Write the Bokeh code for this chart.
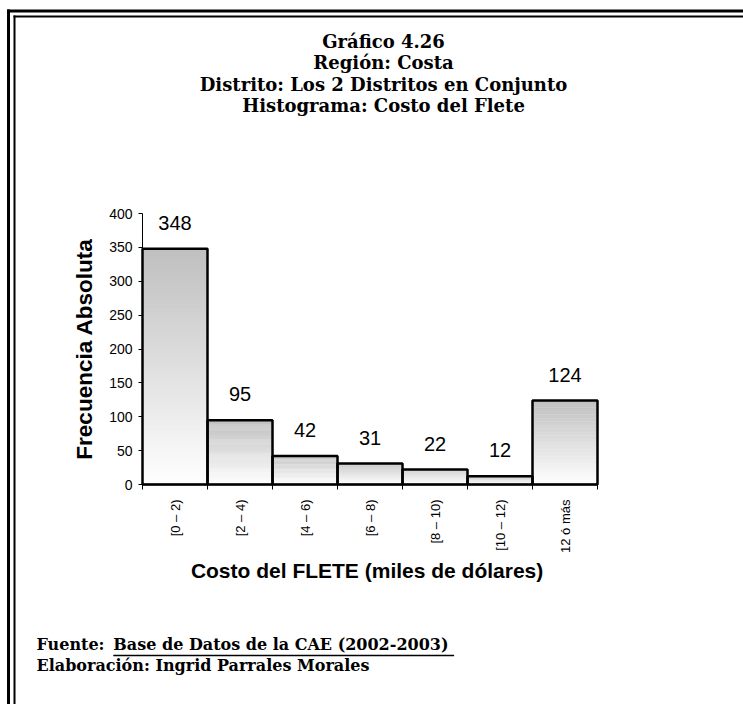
import math
from bokeh.plotting import figure
from bokeh.models import Range1d, FixedTicker, Label
from bokeh.core.properties import value
from bokeh.embed import file_html
from bokeh.resources import INLINE

# ---------------- data ----------------
categories = ["[0 \u2013 2)", "[2 \u2013 4)", "[4 \u2013 6)", "[6 \u2013 8)",
              "[8 \u2013 10)", "[10 \u2013 12)", "12 \u00f3 m\u00e1s"]
frequencies = [348, 95, 42, 31, 22, 12, 124]
y_ticks = [0, 50, 100, 150, 200, 250, 300, 350, 400]

title_lines = ["Gr\u00e1fico 4.26", "Regi\u00f3n: Costa",
               "Distrito: Los 2 Distritos en Conjunto",
               "Histograma: Costo del Flete"]
x_title = "Costo  del FLETE (miles de d\u00f3lares)"
y_title = "Frecuencia Absoluta"
source_label = "Fuente: "
source_text = "Base de Datos de la CAE (2002-2003)"
author_text = "Elaboraci\u00f3n: Ingrid Parrales Morales"

# ---------------- layout (canvas px) ----------------
W, H = 743, 704
CL, CR, CT, CB = 142, 597, 213, 484      # chart area edges on the canvas
n = len(categories)
XSPAN = 2 * n
YMAX = y_ticks[-1]
KX = (CR - CL) / XSPAN                   # px per x unit
KY = (CB - CT) / YMAX                    # px per y unit
BASE_FIX = 0.47                          # baseline correction (fraction of font size)
SERIF = "DejaVu Serif"

def xd(c):      # canvas x -> data x
    return (c - CL) / KX

def yd(c):      # canvas y -> data y
    return (CB - c) / KY

centers = [2 * i + 1 for i in range(n)]
lefts = [c - 1 for c in centers]
rights = [c + 1 for c in centers]

p = figure(width=W, height=H, output_backend="svg", toolbar_location=None,
           title=None, min_border=0,
           x_range=Range1d(xd(0), xd(W)), y_range=Range1d(yd(H), yd(0)))
p.outline_line_color = None
p.grid.visible = False
p.background_fill_color = "white"
p.border_fill_color = "white"

# gradient bars (thin slices per bar, grey on top, white at bottom)
N = 60
sl, sr, sb, st, sc = [], [], [], [], []
top_rgb, bot_rgb = (191, 191, 191), (255, 255, 255)
for l, r, v in zip(lefts, rights, frequencies):
    for k in range(N):
        f0, f1 = k / N, (k + 1) / N
        t = (f0 + f1) / 2
        col = tuple(int(round(bot_rgb[j] + (top_rgb[j] - bot_rgb[j]) * t)) for j in range(3))
        sl.append(l); sr.append(r)
        sb.append(v * f0); st.append(min(v, v * f1 + v * 0.004))
        sc.append("#%02x%02x%02x" % col)
p.quad(left=sl, right=sr, bottom=sb, top=st, fill_color=sc, line_color=None)

p.quad(left=lefts, right=rights, bottom=[0] * n, top=frequencies,
       fill_color=None, line_color="black", line_width=2.5)

VAL_FS = 20
p.text(x=centers, y=frequencies, text=[str(v) for v in frequencies],
       text_align="center", text_baseline="alphabetic",
       y_offset=-(16.5 + BASE_FIX * VAL_FS),
       text_font=value("Liberation Sans"), text_font_size=f"{VAL_FS}px", text_color="black")

# axes (real Bokeh axes, pinned to the chart area)
xa = p.xaxis[0]
xa.fixed_location = 0
xa.bounds = (0, XSPAN)
xa.ticker = FixedTicker(ticks=centers, minor_ticks=[0] + rights)
xa.major_label_overrides = {c: lab for c, lab in zip(centers, categories)}
xa.major_tick_out = 0
xa.major_tick_in = 0
xa.minor_tick_out = 5
xa.minor_tick_in = 0
xa.minor_tick_line_color = "black"
xa.axis_line_color = "black"
xa.axis_line_width = 1.5
xa.major_label_orientation = math.pi / 2
xa.major_label_standoff = 10
xa.major_label_text_font = "Liberation Sans"
xa.major_label_text_font_size = "13px"
xa.major_label_text_color = "black"
xa.axis_label = x_title
xa.axis_label_text_font = "Liberation Sans"
xa.axis_label_text_font_style = "bold"
xa.axis_label_text_font_size = "21px"
xa.axis_label_text_color = "black"
xa.axis_label_standoff = 3

ya = p.yaxis[0]
ya.fixed_location = 0
ya.bounds = (0, YMAX)
ya.ticker = FixedTicker(ticks=y_ticks, minor_ticks=[])
ya.major_tick_out = 4
ya.major_tick_in = 0
ya.major_tick_line_color = "black"
ya.axis_line_color = "black"
ya.major_label_standoff = 6
ya.major_label_text_font = "Liberation Sans"
ya.major_label_text_font_size = "14px"
ya.major_label_text_color = "black"
ya.axis_label = y_title
ya.axis_label_text_font = "Liberation Sans"
ya.axis_label_text_font_style = "bold"
ya.axis_label_text_font_size = "22.5px"
ya.axis_label_text_color = "black"
ya.axis_label_standoff = 9

def text_label(txt, x, baseline, fs, align):
    return Label(x=xd(x), y=yd(baseline - BASE_FIX * fs), text=txt, text_align=align,
                 text_baseline="alphabetic",
                 text_font=SERIF, text_font_style="bold",
                 text_font_size=f"{fs}px", text_color="black")

# title lines
TITLE_FS = 18
title_baselines = [49, 70.5, 92, 113.5]
for txt, by in zip(title_lines, title_baselines):
    p.add_layout(text_label(txt, 383, by, TITLE_FS, "center"))

# footnotes
FOOT_FS = 16
FOOT_X, FOOT_Y1, FOOT_Y2 = 36, 652, 673
FOOT_X2 = FOOT_X + 4.8 * FOOT_FS
p.add_layout(text_label(source_label, FOOT_X, FOOT_Y1, FOOT_FS, "left"))
p.add_layout(text_label(source_text, FOOT_X2, FOOT_Y1, FOOT_FS, "left"))
p.add_layout(text_label(author_text, FOOT_X, FOOT_Y2, FOOT_FS, "left"))
# underline of the source text
p.segment(x0=[xd(FOOT_X2)], y0=[yd(FOOT_Y1 + 3)],
          x1=[xd(FOOT_X2 + 21.3 * FOOT_FS)], y1=[yd(FOOT_Y1 + 3)],
          line_color="black", line_width=1.5)

# double frame (top and left visible, continuing past the picture edges)
far = 5000
p.segment(x0=[xd(8), xd(8), xd(14), xd(14)],
          y0=[yd(10.5), yd(10.5), yd(16), yd(16)],
          x1=[xd(8), xd(far), xd(14), xd(far)],
          y1=[yd(far), yd(10.5), yd(far), yd(16)],
          line_color="black", line_width=[3, 3, 2, 2], line_cap="square")

open("out.html", "w").write(file_html(p, INLINE))
